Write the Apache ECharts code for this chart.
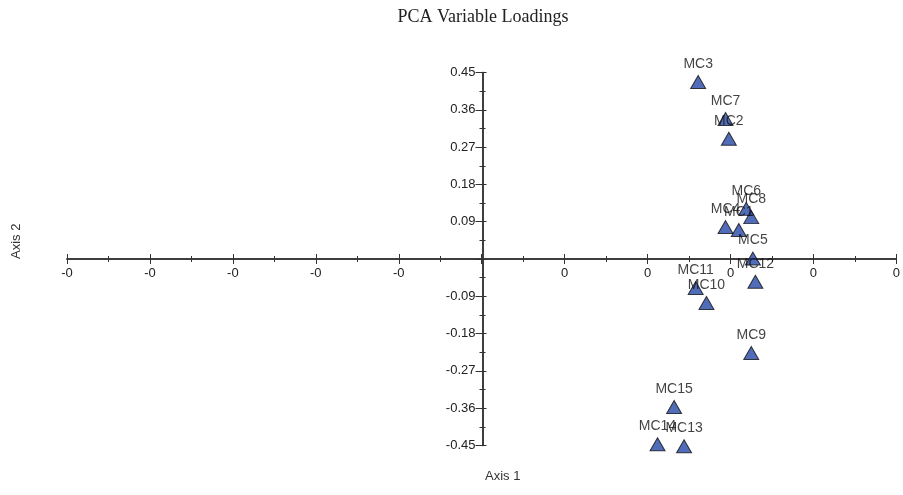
<!DOCTYPE html>
<html>
<head>
<meta charset="utf-8">
<script src="https://cdn.jsdelivr.net/npm/echarts@6/dist/echarts.min.js"></script>
<style>
  html, body { margin: 0; padding: 0; background: #fff; }
  #chart { width: 903px; height: 495px; }
</style>
</head>
<body>
<div id="chart"></div>
<script>
  // loadings
  const names = ['MC1', 'MC2', 'MC3', 'MC4', 'MC5', 'MC6', 'MC7', 'MC8', 'MC9', 'MC10', 'MC11', 'MC12', 'MC13', 'MC14', 'MC15']
  const axis1 = [0.310, 0.298, 0.261, 0.294, 0.327, 0.319, 0.294, 0.325, 0.325, 0.271, 0.258, 0.330, 0.244, 0.212, 0.232]
  const axis2 = [0.070, 0.290, 0.427, 0.077, 0.001, 0.121, 0.338, 0.101, -0.227, -0.106, -0.070, -0.055, -0.452, -0.447, -0.357]

  const xMin = -0.5, xMax = 0.5, xStep = 0.1
  const yMin = -0.45, yMax = 0.45, yStep = 0.09

  const points = names.map((n, i) => [axis1[i], axis2[i], n])

  // grid box; axes are shifted into the middle of it with offset
  const gLeft = 67, gRight = 5, gTop = 72.5, gBottom = 49.5
  const gW = 903 - gLeft - gRight
  const gH = 495 - gTop - gBottom
  const xOff = -gH / 2   // move x axis up to y = 0
  const yOff = -gW / 2   // move y axis right to x = 0

  const axisColor = '#333'
  const font = 'Liberation Sans, Arial, sans-serif'

  const xLabel = (v) => {
    if (Math.abs(v) < 1e-9) return ''
    return v < 0 ? '-0' : '0'
  }
  const yLabel = (v) => (Math.abs(v) < 1e-9 ? '' : v.toFixed(2))

  const baseX = {
    type: 'value', min: xMin, max: xMax, interval: xStep,
    position: 'bottom', offset: xOff,
    splitLine: { show: false },
    axisLine: { onZero: false, lineStyle: { color: axisColor, width: 1.5 } },
    minorTick: { show: true, splitNumber: 2, length: 3, lineStyle: { color: axisColor } },
    minorSplitLine: { show: false }
  }
  const baseY = {
    type: 'value', min: yMin, max: yMax, interval: yStep,
    position: 'left', offset: yOff,
    splitLine: { show: false },
    axisLine: { onZero: false, lineStyle: { color: axisColor, width: 1.5 } },
    minorTick: { show: true, splitNumber: 2, length: 3, lineStyle: { color: axisColor } },
    minorSplitLine: { show: false }
  }

  const option = {
    animation: false,
    grid: { left: gLeft, right: gRight, top: gTop, bottom: gBottom, containLabel: false },
    graphic: [
      { type: 'text', x: 483, y: 8, style: { text: 'PCA Variable Loadings', font: '18px "Liberation Serif", serif', fill: '#222', align: 'center' } },
      { type: 'text', x: 10, y: 259, rotation: Math.PI / 2, style: { text: 'Axis 2', font: '13px ' + font, fill: '#333' } },
      { type: 'text', x: 485, y: 470, style: { text: 'Axis 1', font: '13px ' + font, fill: '#333' } }
    ],
    xAxis: [
      Object.assign({}, baseX, {
        axisTick: { show: true, length: 5, lineStyle: { color: axisColor } },
        axisLabel: { formatter: xLabel, color: '#222', fontSize: 13, fontFamily: font, margin: 8 }
      }),
      Object.assign({}, baseX, {
        axisTick: { show: true, inside: true, length: 5, lineStyle: { color: axisColor } },
        minorTick: { show: true, splitNumber: 2, length: 3, lineStyle: { color: axisColor } },
        axisLabel: { show: false }
      })
    ],
    yAxis: [
      Object.assign({}, baseY, {
        axisTick: { show: true, length: 7, lineStyle: { color: axisColor } },
        axisLabel: { formatter: yLabel, color: '#222', fontSize: 13, fontFamily: font, margin: 7 }
      }),
      Object.assign({}, baseY, {
        axisTick: { show: true, inside: true, length: 4, lineStyle: { color: axisColor } },
        axisLabel: { show: false }
      })
    ],
    series: [
      {
        type: 'scatter',
        data: points,
        clip: false,
        symbol: 'triangle',
        symbolSize: [15, 13],
        itemStyle: { color: '#2548a8', borderColor: '#111', borderWidth: 1 },
        label: {
          show: true,
          position: 'top',
          distance: 4,
          formatter: (p) => p.data[2],
          color: '#111',
          fontSize: 14,
          fontFamily: font
        },
        z: 5
      }
    ]
  }

  const chart = echarts.init(document.getElementById('chart'), null, { renderer: 'canvas' })
  chart.setOption(option)
</script>
</body>
</html>
